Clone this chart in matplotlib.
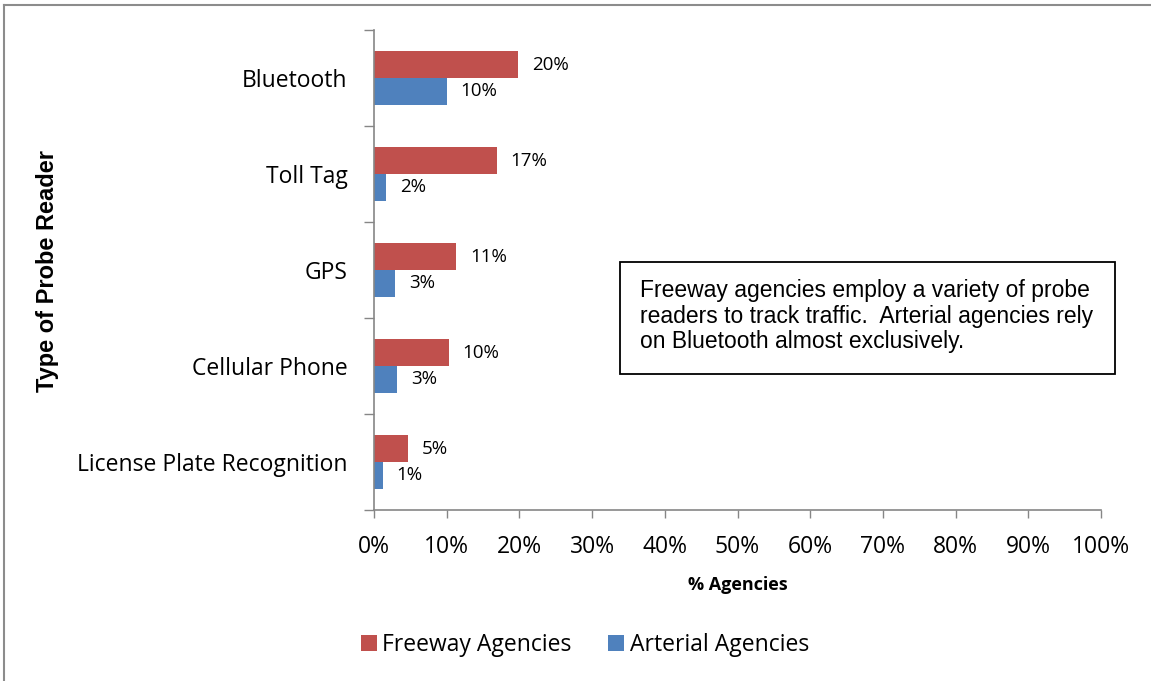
import matplotlib.pyplot as plt
import numpy as np
from matplotlib.lines import Line2D

# Data (bottom to top)
categories = ['License Plate Recognition', 'Cellular Phone', 'GPS', 'Toll Tag', 'Bluetooth']
freeway = [4.7, 10.3, 11.3, 16.9, 19.8]
arterial = [1.2, 3.2, 2.9, 1.65, 10.0]
freeway_labels = ['5%', '10%', '11%', '17%', '20%']
arterial_labels = ['1%', '3%', '3%', '2%', '10%']
xticks = list(range(0, 101, 10))

red = '#C0504D'
blue = '#4F81BD'
axis_gray = '#868686'
font = ['Open Sans', 'DejaVu Sans']

plt.rcParams['font.family'] = font

fig = plt.figure(figsize=(11.51, 6.81), dpi=100)
ax = fig.add_axes([374 / 1151, 1 - 510 / 681, (1101 - 374) / 1151, 480 / 681])

y = np.arange(len(categories))
h = 0.28
ax.barh(y + h / 2, freeway, height=h, color=red, label='Freeway Agencies')
ax.barh(y - h / 2, arterial, height=h, color=blue, label='Arterial Agencies')

# data labels
for i in range(len(categories)):
    ax.annotate(freeway_labels[i], (freeway[i], y[i] + h / 2), xytext=(10, 0),
                textcoords='offset points', va='center', ha='left', fontsize=13.5)
    ax.annotate(arterial_labels[i], (arterial[i], y[i] - h / 2), xytext=(10, 0),
                textcoords='offset points', va='center', ha='left', fontsize=13.5)

ax.set_xlim(0, 100)
ax.set_ylim(-0.5, len(categories) - 0.5)
ax.set_xticks(xticks)
ax.set_xticklabels([f'{t}%' for t in xticks], fontsize=16.5)
ax.set_yticks(y)
ax.set_yticklabels(categories, fontsize=16.5)
ax.set_yticks(np.arange(-0.5, len(categories), 1), minor=True)
ax.tick_params(axis='y', which='major', length=0, pad=19)
ax.tick_params(axis='y', which='minor', length=7, color=axis_gray, width=1)
ax.tick_params(axis='x', which='major', length=6, color=axis_gray, width=1, pad=12)

for s in ['top', 'right']:
    ax.spines[s].set_visible(False)
for s in ['left', 'bottom']:
    ax.spines[s].set_color(axis_gray)
    ax.spines[s].set_linewidth(1.2)

ax.set_xlabel('% Agencies', fontsize=13, fontweight='bold', labelpad=12)
fig.text(48 / 1151, 1 - 271 / 681, 'Type of Probe Reader', rotation=90, fontsize=17,
         fontweight='bold', ha='center', va='center', family=['Liberation Sans'])

# annotation box
fig.text(640 / 1151, 1 - 316 / 681,
         'Freeway agencies employ a variety of probe\nreaders to track traffic.  Arterial agencies rely\non Bluetooth almost exclusively.',
         fontsize=16.5, family=['Liberation Sans'], ha='left', va='center', linespacing=1.15)
fig.patches.append(plt.Rectangle((620 / 1151, 1 - 374 / 681), 495 / 1151, 112 / 681,
                                 transform=fig.transFigure, fill=False, edgecolor='black',
                                 linewidth=1.3))

fig.legend(loc='center', bbox_to_anchor=(585 / 1151, 1 - 645 / 681), ncol=2, frameon=False,
           fontsize=16.5, handlelength=0.7, handleheight=0.7, handletextpad=0.25,
           columnspacing=1.6)

# outer frame (top and left)
fig.add_artist(Line2D([4 / 1151, 4 / 1151], [0, 1 - 5 / 681], transform=fig.transFigure,
                      color='#8c8c8c', linewidth=1.5))
fig.add_artist(Line2D([4 / 1151, 1], [1 - 5 / 681, 1 - 5 / 681], transform=fig.transFigure,
                      color='#8c8c8c', linewidth=1.5))

fig.savefig('out.png', dpi=100)
